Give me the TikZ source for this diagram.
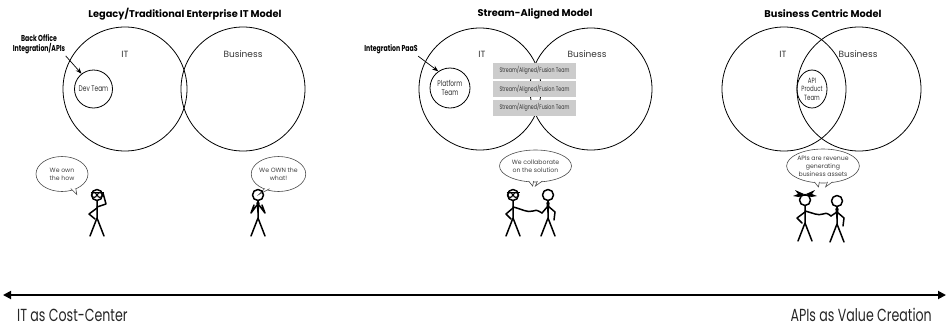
\documentclass[tikz,border=0pt]{standalone}
\usepackage{fontspec}
\setmainfont{Poppins}
\newfontfamily\narrowfont[FakeStretch=0.72]{Poppins}
\usetikzlibrary{shapes.geometric,arrows.meta}

\tikzset{
  venn/.style={circle, draw, line width=0.8pt, minimum size=124pt, inner sep=0pt},
  setname/.style={font=\fontsize{9}{10}\selectfont, text=black!80},
  heading/.style={font=\fontsize{9.8}{11}\selectfont\bfseries},
  team/.style={circle, draw, line width=0.8pt, inner sep=0pt, align=center,
               font=\narrowfont\fontsize{8.2}{9}\selectfont, text=black!80},
  callout/.style={align=center, font=\narrowfont\bfseries\fontsize{8.6}{9.5}\selectfont},
  bubble/.style={ellipse, draw=black!70, line width=0.6pt, inner sep=0pt, align=center,
                 font=\fontsize{6.2}{8}\selectfont, text=black!75},
  tail/.style={draw=black!70, line width=0.6pt, fill=white},
  streambox/.style={fill=black!20, minimum width=83pt, minimum height=16pt, inner sep=0pt,
                    font=\narrowfont\fontsize{6.6}{7}\selectfont, text=black!80},
  stick/.style={line width=1.5pt, line cap=round, line join=round},
  axislabel/.style={inner sep=0pt, font=\narrowfont\fontsize{17.5}{19}\selectfont, text=black!85},
  % stick figure parts, origin at the head centre
  stickman/.pic={
    \draw[stick] (0,0) circle (5.5pt);
    \draw[stick] (0,5.5) -- (0,23) -- (-7,41) (0,23) -- (7,41);
  },
  specs/.pic={
    \draw[line width=1.6pt] (-6.5,-2.5) -- (6.5,-2.5);
    \draw[line width=1.1pt] (-2.8,0) circle (2.4pt) (2.8,0) circle (2.4pt);
  },
  tie/.pic={
    \fill (0,5.5) -- (1.6,8) -- (0.7,17) -- (0,18.5) -- (-0.7,17) -- (-1.6,8) -- cycle;
  },
  pigtails/.pic={
    \fill (-1,-6) -- (-10,-10) -- (-7,-6) -- (-12,-4) -- (-6,-3) -- cycle;
    \fill (1,-6) -- (10,-10) -- (7,-6) -- (12,-4) -- (6,-3) -- cycle;
    \draw[line width=1.3pt] (-5,-4.5) -- (5,-4.5);
  }
}

\begin{document}
\begin{tikzpicture}[x=1pt, y=-1pt, >=Stealth]
\useasboundingbox (0,0) rectangle (948,330);

%% legacy model
\node[heading] (t1) at (185,14) {Legacy/Traditional Enterprise IT Model};
\node[venn] (it1) at (125,89) {};
\node[venn] (biz1) at (243,89) {};
\node[setname] at (125,54) {IT};
\node[setname] at (243,54) {Business};
\node[team, minimum size=38pt] (dev) at (93.5,89) {Dev Team};
\node[callout] (backoffice) at (39,44) {Back Office\\Integration/APIs};
\draw[->, line width=0.7pt] (backoffice.south east) ++(-3,-1) -- (dev.128);

\node[bubble, minimum width=52pt, minimum height=35pt] (say1) at (62,174) {We own\\the how};
\draw[tail] ([xshift=-3.5pt,yshift=1.2pt]say1.-52) -- ++(6,6) -- ([xshift=1.5pt,yshift=1.2pt]say1.-52);
\node[bubble, minimum width=53pt, minimum height=35pt] (say2) at (278.5,174) {We OWN the\\what!};
\draw[tail] ([xshift=-1.5pt,yshift=1.2pt]say2.-128) -- ++(-6,6) -- ([xshift=3.5pt,yshift=1.2pt]say2.-128);

\pic at (97,195) {stickman};
\pic at (97,195) {specs};
\draw[stick] (97,207) -- (106,204) -- (103,193);
\draw[stick] (97,208) -- (89,214) -- (95,219);
\pic at (258,195) {stickman};
\pic at (258,195) {tie};
\draw[stick] (257,205) -- (251,213) -- (254,205);
\draw[stick] (259,205) -- (265,213) -- (262,205);

%% stream-aligned model
\node[heading] (t2) at (535,14) {Stream-Aligned Model};
\node[venn, minimum size=122pt] (it2) at (480,89) {};
\node[venn, minimum size=122pt] (biz2) at (591,89) {};
\node[setname] at (482,54) {IT};
\node[setname] at (587,54) {Business};
\node[team, minimum size=40pt] (platform) at (450,88) {Platform\\Team};
\node[callout] (paas) at (391,49) {Integration PaaS};
\draw[->, line width=0.7pt] (paas.south east) ++(-3,-1) -- (platform.125);
\foreach \y [count=\i] in {70.5,89,107.5}
  \node[streambox] (stream\i) at (534.5,\y) {Stream/Aligned/Fusion Team};

\node[bubble, minimum width=72pt, minimum height=32pt] (say3) at (535.5,166) {We collaborate\\on the solution};
\draw[tail] ([xshift=-4pt,yshift=1.2pt]say3.-100) -- ++(4,5) -- ([xshift=1pt,yshift=1.2pt]say3.-100);
\draw[tail] ([xshift=-1pt,yshift=1.2pt]say3.-80) -- ++(-2,5) -- ([xshift=4pt,yshift=1.2pt]say3.-80);

\pic at (513,195) {stickman};
\pic at (513,195) {specs};
\draw[stick] (513,208) -- (506,214) -- (511,219);
\draw[stick] (513,207) .. controls (522,209) and (527,213) .. (533,211) .. controls (537,210) .. (542,213);
\pic at (548,195) {stickman};
\pic at (548,195) {tie};
\draw[stick] (548,206) -- (542,213);
\draw[stick] (548,206) -- (555,212) -- (554,220);

%% business centric model
\node[heading] (t3) at (823,14) {Business Centric Model};
\node[venn] (it3) at (784,89) {};
\node[venn] (biz3) at (859,89) {};
\node[setname] at (783,54) {IT};
\node[setname] at (858,54) {Business};
\node[ellipse, draw, line width=0.8pt, minimum width=30pt, minimum height=38pt, inner sep=0pt,
      align=center, font=\narrowfont\fontsize{7.6}{8.4}\selectfont, text=black!80] (apiteam) at (812,89) {API\\Product\\Team};

\node[bubble, minimum width=72pt, minimum height=34pt] (say4) at (823,166) {APIs are revenue\\generating\\business assets};
\draw[tail] ([xshift=-4pt,yshift=1.2pt]say4.-105) -- ++(4,5) -- ([xshift=1pt,yshift=1.2pt]say4.-105);
\draw[tail] ([xshift=-1pt,yshift=1.2pt]say4.-72) -- ++(-2,5) -- ([xshift=4pt,yshift=1.2pt]say4.-72);

\pic at (805,200) {stickman};
\pic at (805,200) {pigtails};
\draw[stick] (805,212) -- (797,218) -- (802,223);
\draw[stick] (805,211) .. controls (813,213) and (818,216) .. (823,214) .. controls (827,213) .. (831,216);
\pic at (837,201) {stickman};
\pic at (837,201) {tie};
\draw[stick] (837,212) -- (831,216);
\draw[stick] (837,212) -- (844,218) -- (843,226);

%% scale along the bottom
\coordinate (lo) at (3,295);
\coordinate (hi) at (946,295);
\draw[{Triangle[length=8pt,width=8pt]}-{Triangle[length=8pt,width=8pt]}, line width=1.8pt] (lo) -- (hi);
\node[axislabel, anchor=west] (cost) at (17,315) {IT as Cost-Center};
\node[axislabel, anchor=east] (value) at (932,315) {APIs as Value Creation};
\end{tikzpicture}
\end{document}
